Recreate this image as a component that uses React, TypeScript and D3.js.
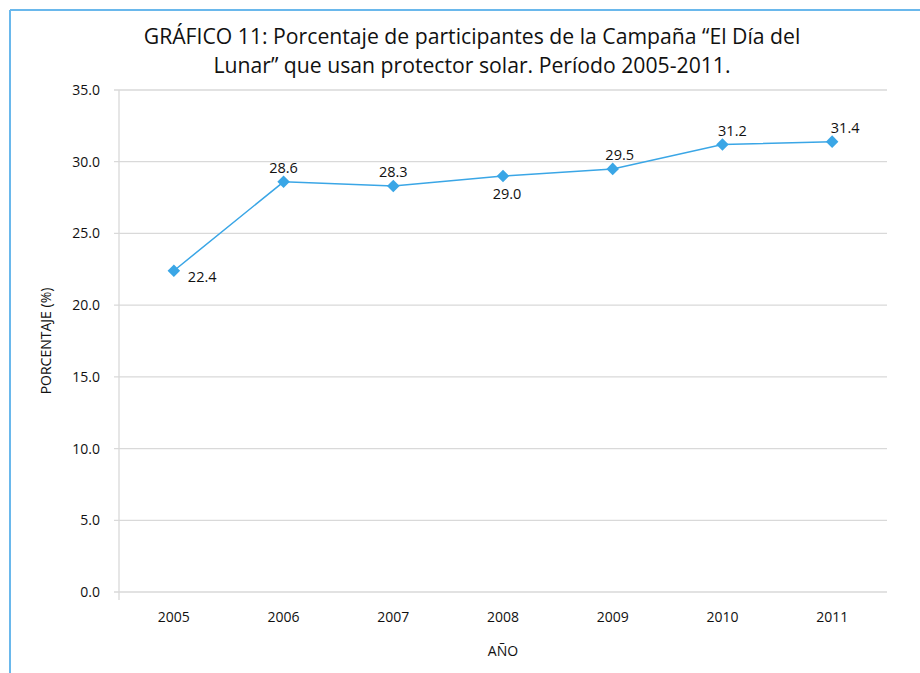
import React from "react";
import * as d3 from "d3";

const years = ["2005", "2006", "2007", "2008", "2009", "2010", "2011"];
const values = [22.4, 28.6, 28.3, 29.0, 29.5, 31.2, 31.4];
const yTicks = [0, 5, 10, 15, 20, 25, 30, 35];
const labelPlacement = ["right", "above", "above", "below", "above", "above", "above"];
const titleLines = [
  "GRÁFICO 11: Porcentaje de participantes de la Campaña “El Día del",
  "Lunar” que usan protector solar. Período 2005-2011.",
];

const FONT = "'Open Sans', 'Noto Sans', sans-serif";
const W = 920;
const H = 673;
const left = 119;
const right = 887;
const top = 90;
const bottom = 592;
const lineColor = "#3aa6e6";

export default function App() {
  const x = d3.scaleBand<string>().domain(years).range([left, right]);
  const y = d3.scaleLinear().domain([0, 35]).range([bottom, top]);
  const cx = (i: number) => (x(years[i]) as number) + x.bandwidth() / 2;
  const line = d3
    .line<number>()
    .x((_, i) => cx(i))
    .y((d) => y(d));
  const diamond = d3.symbol().type(d3.symbolDiamond2).size(100)() as string;

  return (
    <svg
      width={W}
      height={H}
      style={{ position: "absolute", left: 0, top: 0, background: "#fff" }}
    >
      <rect x={0} y={0} width={W} height={H} fill="#fff" />
      {/* frame */}
      <line x1={10} y1={10} x2={W} y2={10} stroke="#6ab8ec" strokeWidth={2} />
      <line x1={10} y1={10} x2={10} y2={H} stroke="#6ab8ec" strokeWidth={2} />
      {/* title */}
      {titleLines.map((t, i) => (
        <text
          key={i}
          x={472}
          y={44 + i * 29}
          textAnchor="middle"
          fontFamily={FONT}
          fontSize={21.2}
          fill="#111"
        >
          {t}
        </text>
      ))}
      {/* gridlines + y ticks */}
      {yTicks.map((t) => (
        <g key={t}>
          <line x1={114} x2={right} y1={y(t)} y2={y(t)} stroke="#d9d9d9" strokeWidth={1.3} />
          <text
            x={100}
            y={y(t) + 5}
            textAnchor="end"
            fontFamily={FONT}
            fontSize={14}
            fill="#111"
          >
            {t.toFixed(1)}
          </text>
        </g>
      ))}
      <line x1={left} x2={left} y1={top} y2={600} stroke="#d9d9d9" strokeWidth={1.3} />
      {/* x labels */}
      {years.map((yr, i) => (
        <text
          key={yr}
          x={cx(i)}
          y={622}
          textAnchor="middle"
          fontFamily={FONT}
          fontSize={14}
          fill="#111"
        >
          {yr}
        </text>
      ))}
      <text x={503} y={656} textAnchor="middle" fontFamily={FONT} fontSize={14} fill="#111">
        AÑO
      </text>
      <text
        transform={`translate(51,${(top + bottom) / 2}) rotate(-90)`}
        textAnchor="middle"
        fontFamily={FONT}
        fontSize={14}
        fill="#111"
      >
        PORCENTAJE (%)
      </text>
      {/* series */}
      <path d={line(values) as string} fill="none" stroke={lineColor} strokeWidth={1.5} />
      {values.map((v, i) => (
        <path key={i} d={diamond} transform={`translate(${cx(i)},${y(v)})`} fill={lineColor} />
      ))}
      {values.map((v, i) => {
        const p = labelPlacement[i];
        let lx = cx(i) + (i >= 3 ? (i - 3) * 3 + 4 : 0);
        let ly = y(v) - 9;
        let anchor: "start" | "middle" = "middle";
        if (p === "right") {
          lx = cx(i) + 14;
          ly = y(v) + 11;
          anchor = "start";
        } else if (p === "below") {
          ly = y(v) + 23;
        }
        return (
          <text
            key={i}
            x={lx}
            y={ly}
            textAnchor={anchor}
            fontFamily={FONT}
            fontSize={14.5}
            fill="#111"
          >
            {v.toFixed(1)}
          </text>
        );
      })}
    </svg>
  );
}
